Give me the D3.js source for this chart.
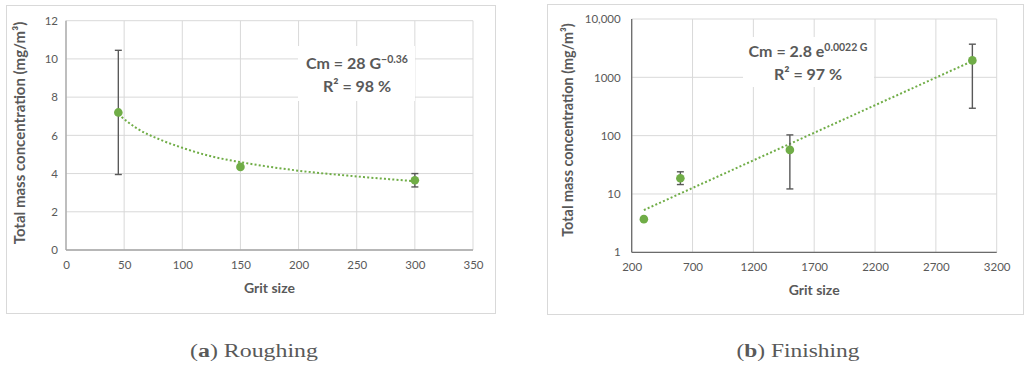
<!DOCTYPE html>
<html><head><meta charset="utf-8">
<script src="https://cdn.jsdelivr.net/npm/d3@7"></script>
<style>
body{margin:0;background:#fff;}
svg{display:block;}
text{font-family:Lato,"Open Sans",sans-serif;fill:#595959;}
</style></head>
<body>
<svg id="chart" width="1028" height="372"></svg>
<script>
// ---------- data ----------
const roughGrit = [45, 150, 300];
const roughMean = [7.2, 4.35, 3.65];
const roughLow  = [3.95, 4.35, 3.3];
const roughHigh = [10.45, 4.35, 4.0];
const roughFitGrit = [45, 60, 80, 100, 125, 150, 200, 250, 300];
const roughFitVal  = [7.1, 6.4, 5.8, 5.35, 4.9, 4.6, 4.15, 3.85, 3.6];
const roughXTicks = [0, 50, 100, 150, 200, 250, 300, 350];
const roughYTicks = [0, 2, 4, 6, 8, 10, 12];

const finishGrit = [300, 600, 1500, 3000];
const finishMean = [3.7, 18.6, 57, 1950];
const finishLow  = [3.7, 14.5, 12.2, 295];
const finishHigh = [3.7, 24, 103, 3700];
const finishFitGrit = [300, 3000];
const finishFitVal  = [5.3, 1900];
const finishXTicks = [200, 700, 1200, 1700, 2200, 2700, 3200];
const finishYTicks = [1, 10, 100, 1000, 10000];
const finishYLabels = ["1", "10", "100", "1000", "10,000"];

const GREEN = "#70ad47";
const svg = d3.select("#chart");

function panel(cfg) {
  const g = svg.append("g");
  // outer frame
  g.append("rect").attr("x", cfg.frame[0] + 0.5).attr("y", cfg.frame[1] + 0.5)
    .attr("width", cfg.frame[2] - cfg.frame[0]).attr("height", cfg.frame[3] - cfg.frame[1])
    .attr("fill", "#fff").attr("stroke", "#d9d9d9").attr("stroke-width", 1);

  const x = cfg.x, y = cfg.y;
  const [x0, x1] = x.range(), [y0, y1] = y.range();

  // gridlines
  g.append("g").selectAll("line.v").data(cfg.xTicks).join("line")
    .attr("x1", d => x(d)).attr("x2", d => x(d)).attr("y1", y0).attr("y2", y1)
    .attr("stroke", "#d9d9d9").attr("stroke-width", 1);
  g.append("g").selectAll("line.h").data(cfg.yTicks).join("line")
    .attr("x1", x0).attr("x2", x1).attr("y1", d => y(d)).attr("y2", d => y(d))
    .attr("stroke", "#d9d9d9").attr("stroke-width", 1);

  // white label box
  g.append("rect").attr("x", cfg.box[0]).attr("y", cfg.box[1])
    .attr("width", cfg.box[2] - cfg.box[0]).attr("height", cfg.box[3] - cfg.box[1])
    .attr("fill", "#fff");

  // axes with d3 axis for labels
  const xAxis = d3.axisBottom(x).tickValues(cfg.xTicks).tickSize(0).tickPadding(11)
    .tickFormat(d3.format("d"));
  const gx = g.append("g").attr("transform", `translate(0,${y0})`).call(xAxis);
  gx.select(".domain").remove();
  gx.selectAll("text").attr("font-size", 11.5).attr("fill", "#595959")
    .style("font-family", "Lato, sans-serif");

  const yAxis = d3.axisLeft(y).tickValues(cfg.yTicks).tickSize(0).tickPadding(cfg.yPad)
    .tickFormat((d, i) => cfg.yLabels ? cfg.yLabels[i] : d);
  const gy = g.append("g").attr("transform", `translate(${x0},0)`).call(yAxis);
  gy.select(".domain").remove();
  gy.selectAll("text").attr("font-size", 11.5).attr("fill", "#595959")
    .style("font-family", "Lato, sans-serif");

  // axis lines
  g.append("line").attr("x1", x0).attr("x2", x1).attr("y1", y0).attr("y2", y0)
    .attr("stroke", cfg.axisColor).attr("stroke-width", 1.3);
  g.append("line").attr("x1", x0).attr("x2", x0).attr("y1", y0).attr("y2", y1)
    .attr("stroke", cfg.axisColor).attr("stroke-width", 1.3);

  // trendline
  const line = d3.line().x(d => x(d[0])).y(d => y(d[1])).curve(d3.curveMonotoneX);
  g.append("path").datum(d3.zip(cfg.fitGrit, cfg.fitVal)).attr("d", line)
    .attr("fill", "none").attr("stroke", GREEN).attr("stroke-width", 2)
    .attr("stroke-dasharray", "2,2.2");

  // error bars
  const eb = d3.range(cfg.grit.length).filter(i => cfg.high[i] > cfg.low[i]);
  const ge = g.append("g").attr("stroke", "#595959").attr("stroke-width", 1.4);
  ge.selectAll("line.s").data(eb).join("line")
    .attr("x1", i => x(cfg.grit[i])).attr("x2", i => x(cfg.grit[i]))
    .attr("y1", i => y(cfg.low[i])).attr("y2", i => y(cfg.high[i]));
  ge.selectAll("line.t").data(eb).join("line")
    .attr("x1", i => x(cfg.grit[i]) - 3.5).attr("x2", i => x(cfg.grit[i]) + 3.5)
    .attr("y1", i => y(cfg.high[i])).attr("y2", i => y(cfg.high[i]));
  ge.selectAll("line.b").data(eb).join("line")
    .attr("x1", i => x(cfg.grit[i]) - 3.5).attr("x2", i => x(cfg.grit[i]) + 3.5)
    .attr("y1", i => y(cfg.low[i])).attr("y2", i => y(cfg.low[i]));

  // markers
  g.append("g").selectAll("circle").data(d3.zip(cfg.grit, cfg.mean)).join("circle")
    .attr("cx", d => x(d[0])).attr("cy", d => y(d[1])).attr("r", 4.3).attr("fill", GREEN);

  // equation
  const eq = g.append("text").attr("x", cfg.eqX).attr("y", cfg.eqY).attr("text-anchor", "middle")
    .attr("font-size", 16).attr("font-weight", "bold");
  eq.append("tspan").text(cfg.eqMain);
  eq.append("tspan").attr("dy", -6).attr("font-size", 10.5).text(cfg.eqSup);
  g.append("text").attr("x", cfg.eqX).attr("y", cfg.eqY + 23).attr("text-anchor", "middle")
    .attr("font-size", 16).attr("font-weight", "bold").text(cfg.r2);

  // axis titles
  g.append("text").attr("x", (x0 + x1) / 2).attr("y", y0 + 43).attr("text-anchor", "middle")
    .attr("font-size", 14).attr("font-weight", "bold").text("Grit size");
  g.append("text").attr("transform", `translate(${cfg.yTitleX},${cfg.yTitleY}) rotate(-90)`)
    .attr("text-anchor", "middle").attr("font-size", cfg.yTitleSize).attr("font-weight", "bold")
    .text("Total mass concentration (mg/m³)");

  // caption
  const cap = svg.append("text").attr("x", cfg.capX).attr("y", 357).attr("text-anchor", "middle")
    .attr("textLength", cfg.capLen).attr("lengthAdjust", "spacingAndGlyphs")
    .style("font-family", "'Liberation Serif', serif").attr("font-size", 18).attr("fill", "#000");
  cap.append("tspan").text("(");
  cap.append("tspan").attr("font-weight", "bold").text(cfg.capLetter);
  cap.append("tspan").text(") " + cfg.capText);
}

panel({
  frame: [6, 5, 495, 313],
  x: d3.scaleLinear().domain([0, 350]).range([66, 473]),
  y: d3.scaleLinear().domain([0, 12]).range([250, 20.7]),
  xTicks: roughXTicks, yTicks: roughYTicks, yPad: 8,
  box: [298, 46, 415, 101],
  axisColor: "#a6a6a6",
  grit: roughGrit, mean: roughMean, low: roughLow, high: roughHigh,
  fitGrit: roughFitGrit, fitVal: roughFitVal,
  eqX: 357, eqY: 69, eqMain: "Cm = 28 G", eqSup: "\u22120.36", r2: "R² = 98 %",
  yTitleX: 25, yTitleY: 133, yTitleSize: 15,
  capX: 254, capLen: 128, capLetter: "a", capText: "Roughing"
});

panel({
  frame: [547, 4, 1023, 314],
  x: d3.scaleLinear().domain([200, 3200]).range([631.7, 996.7]),
  y: d3.scaleLog().domain([1, 10000]).range([252.3, 19]),
  xTicks: finishXTicks, yTicks: finishYTicks, yLabels: finishYLabels, yPad: 11,
  box: [743, 37, 874, 87],
  axisColor: "#6b6b6b",
  grit: finishGrit, mean: finishMean, low: finishLow, high: finishHigh,
  fitGrit: finishFitGrit, fitVal: finishFitVal,
  eqX: 808, eqY: 57, eqMain: "Cm = 2.8 e", eqSup: "0.0022 G", r2: "R² = 97 %",
  yTitleX: 573, yTitleY: 130, yTitleSize: 14.4,
  capX: 798, capLen: 123, capLetter: "b", capText: "Finishing"
});
</script>
</body></html>
